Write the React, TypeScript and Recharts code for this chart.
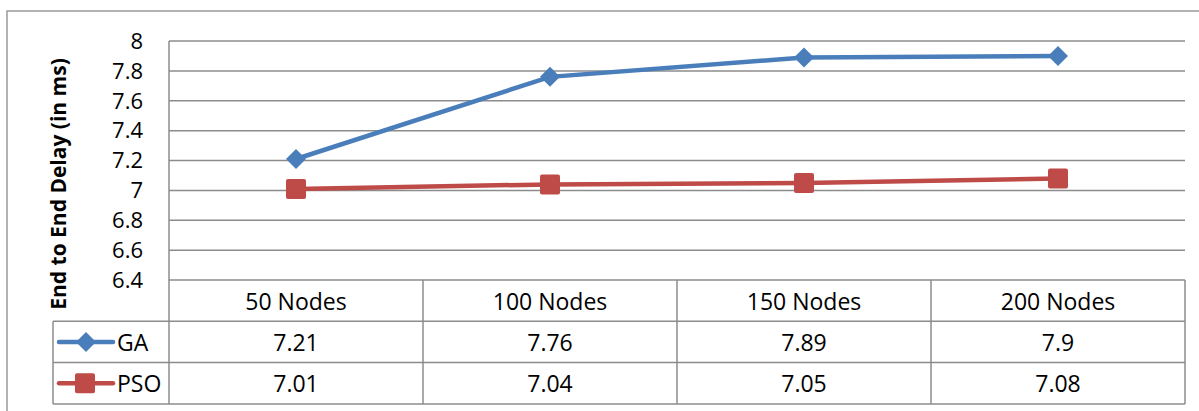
import { LineChart, Line, XAxis, YAxis, CartesianGrid } from 'recharts'

const categories = ['50 Nodes', '100 Nodes', '150 Nodes', '200 Nodes']
const gaValues = [7.21, 7.76, 7.89, 7.9]
const psoValues = [7.01, 7.04, 7.05, 7.08]
const yTicks = [6.4, 6.6, 6.8, 7, 7.2, 7.4, 7.6, 7.8, 8]

const seriesNames = ['GA', 'PSO']
const seriesValues = [gaValues, psoValues]

const data = categories.map((name, i) => ({ name, GA: gaValues[i], PSO: psoValues[i] }))

const W = 1199
const H = 411
const plotLeft = 169
const plotRight = 1185
const plotTop = 41
const plotBottom = 280
const rowH = 41.3
const legendLeft = 53
const colW = (plotRight - plotLeft) / categories.length

const blue = '#4a7ebb'
const red = '#be4b48'
const gridColor = '#8c8c8c'
const font = '"Open Sans", "Liberation Sans", sans-serif'

const diamond = (props: any) => {
  const { cx, cy, index } = props
  return (
    <path
      key={`ga-${index}`}
      d={`M${cx},${cy - 10}L${cx + 10},${cy}L${cx},${cy + 10}L${cx - 10},${cy}Z`}
      fill={blue}
    />
  )
}

const square = (props: any) => {
  const { cx, cy, index } = props
  return <rect key={`pso-${index}`} x={cx - 10} y={cy - 10} width={20} height={20} rx={2} fill={red} />
}

function DataTable() {
  const bottom = plotBottom + rowH * 3
  return (
    <svg
      width={W}
      height={H}
      style={{ position: 'absolute', left: 0, top: 0, pointerEvents: 'none' }}
    >
      {/* outer chart border */}
      <path d={`M7,${H + 2}L7,11L${W + 2},11`} fill='none' stroke='#9a9a9a' strokeWidth={1.5} />

      {/* axis title */}
      <text
        x={58}
        y={184}
        transform='rotate(-90 58 184)'
        textAnchor='middle'
        dominantBaseline='central'
        fontFamily={font}
        fontWeight='bold'
        fontSize={21}
        fill='#000'
      >
        End to End Delay (in ms)
      </text>

      {/* table grid */}
      <g stroke={gridColor} strokeWidth={1.5}>
        <line x1={plotLeft} y1={plotBottom} x2={plotLeft} y2={bottom} />
        {categories.map((c, i) => (
          <line key={c} x1={plotLeft + colW * (i + 1)} y1={plotBottom} x2={plotLeft + colW * (i + 1)} y2={bottom} />
        ))}
        <line x1={legendLeft} y1={plotBottom + rowH} x2={legendLeft} y2={bottom} />
        <line x1={legendLeft} y1={plotBottom + rowH} x2={plotRight} y2={plotBottom + rowH} />
        <line x1={legendLeft} y1={plotBottom + rowH * 2} x2={plotRight} y2={plotBottom + rowH * 2} />
        <line x1={legendLeft} y1={bottom} x2={plotRight} y2={bottom} />
      </g>

      {/* header row */}
      {categories.map((c, i) => (
        <text
          key={c}
          x={plotLeft + colW * (i + 0.5)}
          y={plotBottom + rowH / 2}
          textAnchor='middle'
          dominantBaseline='central'
          fontFamily={font}
          fontSize={23}
          fill='#000'
        >
          {c}
        </text>
      ))}

      {/* series rows */}
      {seriesNames.map((s, r) => {
        const cy = plotBottom + rowH * (r + 1.5)
        const color = r === 0 ? blue : red
        return (
          <g key={s}>
            <line x1={59} y1={cy} x2={113} y2={cy} stroke={color} strokeWidth={4.5} strokeLinecap='round' />
            {r === 0 ? (
              <path d={`M86,${cy - 10}L96,${cy}L86,${cy + 10}L76,${cy}Z`} fill={color} />
            ) : (
              <rect x={75} y={cy - 10} width={20} height={20} rx={2} fill={color} />
            )}
            <text x={117} y={cy} dominantBaseline='central' fontFamily={font} fontSize={23} fill='#000'>
              {s}
            </text>
            {seriesValues[r].map((v, i) => (
              <text
                key={i}
                x={plotLeft + colW * (i + 0.5)}
                y={cy}
                textAnchor='middle'
                dominantBaseline='central'
                fontFamily={font}
                fontSize={23}
                fill='#000'
              >
                {v}
              </text>
            ))}
          </g>
        )
      })}
    </svg>
  )
}

export default function App() {
  return (
    <div style={{ position: 'absolute', left: 0, top: 0, width: W, height: H, background: '#fff' }}>
      <LineChart
        width={W}
        height={H}
        data={data}
        margin={{ top: plotTop, right: W - plotRight, bottom: H - plotBottom, left: plotLeft - 60 }}
      >
        <CartesianGrid vertical={false} stroke={gridColor} strokeWidth={1.5} />
        <XAxis dataKey='name' scale='band' hide />
        <YAxis
          width={60}
          domain={[6.4, 8]}
          ticks={yTicks}
          interval={0}
          tickLine={false}
          tickSize={24}
          axisLine={{ stroke: gridColor, strokeWidth: 1.5 }}
          tick={{ fill: '#000', fontSize: 22, fontFamily: font }}
          tickFormatter={(v: number) => String(Number(v.toFixed(1)))}
        />
        <Line
          dataKey='GA'
          stroke={blue}
          strokeWidth={4.5}
          dot={diamond}
          activeDot={false}
          isAnimationActive={false}
        />
        <Line
          dataKey='PSO'
          stroke={red}
          strokeWidth={4.5}
          dot={square}
          activeDot={false}
          isAnimationActive={false}
        />
      </LineChart>
      <DataTable />
    </div>
  )
}
